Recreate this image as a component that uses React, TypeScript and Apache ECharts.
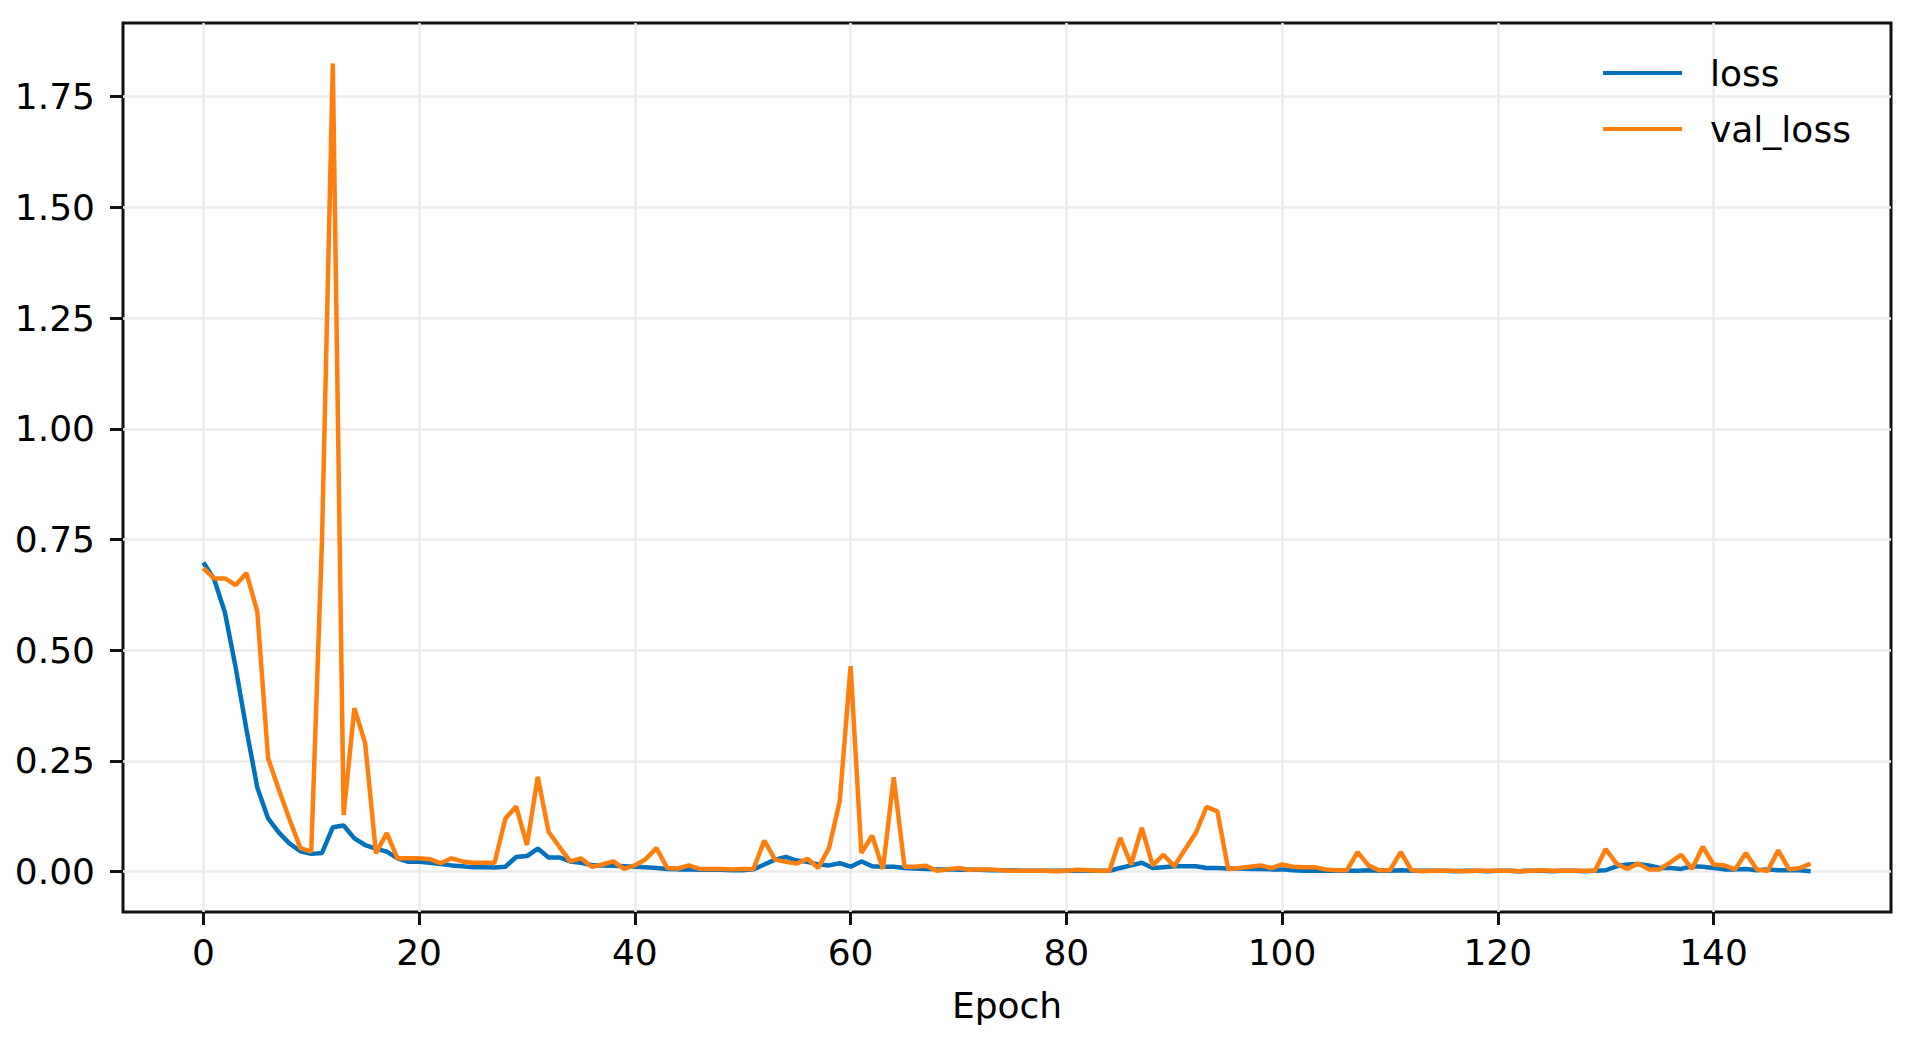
import React, { useEffect, useRef } from "react";
import * as echarts from "echarts";

const epochs: number[] = Array.from({ length: 150 }, (_, i) => i);

const loss: number[] = [
  0.698, 0.66, 0.585, 0.46, 0.32, 0.19, 0.12, 0.088, 0.063, 0.046,
  0.04, 0.042, 0.1, 0.104, 0.075, 0.06, 0.052, 0.045, 0.03, 0.022,
  0.022, 0.02, 0.017, 0.014, 0.012, 0.01, 0.01, 0.009, 0.011, 0.033,
  0.035, 0.052, 0.032, 0.032, 0.023, 0.02, 0.015, 0.014, 0.013, 0.012,
  0.011, 0.01, 0.008, 0.006, 0.005, 0.005, 0.004, 0.004, 0.004, 0.003,
  0.003, 0.005, 0.016, 0.027, 0.033, 0.025, 0.022, 0.016, 0.014, 0.019,
  0.011, 0.023, 0.012, 0.011, 0.011, 0.008, 0.007, 0.006, 0.005, 0.005,
  0.004, 0.004, 0.004, 0.003, 0.003, 0.003, 0.002, 0.002, 0.002, 0.002,
  0.002, 0.002, 0.002, 0.002, 0.002, 0.008, 0.014, 0.02, 0.008, 0.01,
  0.012, 0.012, 0.012, 0.008, 0.008, 0.007, 0.007, 0.006, 0.006, 0.005,
  0.005, 0.003, 0.002, 0.002, 0.002, 0.002, 0.002, 0.002, 0.003, 0.002,
  0.002, 0.003, 0.002, 0.002, 0.002, 0.002, 0.001, 0.002, 0.002, 0.001,
  0.002, 0.002, 0.001, 0.002, 0.002, 0.001, 0.002, 0.002, 0.001, 0.002,
  0.003, 0.012, 0.016, 0.017, 0.014, 0.008, 0.008, 0.006, 0.012, 0.011,
  0.008, 0.005, 0.005, 0.006, 0.003, 0.005, 0.003, 0.003, 0.003, 0.001,
];

const valLoss: number[] = [
  0.685, 0.662, 0.662, 0.647, 0.674, 0.587, 0.256, 0.185, 0.117, 0.053,
  0.045, 0.75, 1.825, 0.128, 0.369, 0.29, 0.041, 0.087, 0.03, 0.03,
  0.03, 0.028, 0.019, 0.03, 0.023, 0.02, 0.02, 0.02, 0.12, 0.147,
  0.06, 0.214, 0.09, 0.056, 0.023, 0.03, 0.011, 0.016, 0.023, 0.006,
  0.014, 0.028, 0.053, 0.008, 0.007, 0.014, 0.006, 0.006, 0.006, 0.005,
  0.006, 0.006, 0.07, 0.027, 0.022, 0.018, 0.029, 0.008, 0.053, 0.16,
  0.464, 0.042, 0.081, 0.006, 0.213, 0.011, 0.011, 0.013, 0.002, 0.005,
  0.008, 0.004, 0.005, 0.005, 0.003, 0.002, 0.002, 0.002, 0.002, 0.001,
  0.002, 0.004, 0.003, 0.002, 0.002, 0.076, 0.016, 0.099, 0.014, 0.038,
  0.012, 0.05, 0.087, 0.146, 0.136, 0.006, 0.008, 0.011, 0.014, 0.008,
  0.016, 0.011, 0.01, 0.01, 0.005, 0.003, 0.003, 0.044, 0.014, 0.003,
  0.003, 0.044, 0.003, 0.001, 0.002, 0.002, 0.002, 0.001, 0.002, 0.002,
  0.002, 0.002, 0.001, 0.002, 0.003, 0.002, 0.002, 0.002, 0.002, 0.002,
  0.051, 0.018, 0.006, 0.018, 0.005, 0.005, 0.021, 0.038, 0.006, 0.056,
  0.016, 0.014, 0.005, 0.042, 0.005, 0.001, 0.048, 0.005, 0.008, 0.018,
];

const xTicks: number[] = [0, 20, 40, 60, 80, 100, 120, 140];
const yTicks: number[] = [0, 0.25, 0.5, 0.75, 1.0, 1.25, 1.5, 1.75];

const FONT = "DejaVu Sans";
const BLUE = "#0072bd";
const ORANGE = "#ff7f0e";
const FS = 36;

export default function App() {
  const ref = useRef<HTMLDivElement>(null);

  useEffect(() => {
    if (!ref.current) return;
    const chart = echarts.init(ref.current, undefined, { renderer: "svg" });
    const option: any = {
      animation: false,
      backgroundColor: "#fff",
      grid: {
        left: 123,
        top: 23,
        width: 1768,
        height: 889,
        show: true,
        borderColor: "#111",
        borderWidth: 3,
        backgroundColor: "transparent",
        containLabel: false,
      },
      legend: {
        orient: "vertical",
        left: 1603,
        top: 55,
        padding: 0,
        itemWidth: 79,
        itemHeight: 4,
        itemGap: 20,
        icon: "rect",
        data: ["loss", "val_loss"],
        textStyle: {
          fontFamily: FONT,
          fontSize: FS,
          color: "#000",
          lineHeight: 34,
          padding: [0, 0, 0, 23],
        },
      },
      xAxis: {
        type: "value",
        min: -7.45,
        max: 156.45,
        name: "Epoch",
        nameLocation: "middle",
        nameGap: 75,
        nameTextStyle: { fontFamily: FONT, fontSize: FS, color: "#000" },
        axisLine: { show: false, onZero: false },
        axisTick: {
          show: true,
          length: 13,
          lineStyle: { color: "#111", width: 3 },
          customValues: xTicks,
        },
        axisLabel: {
          customValues: xTicks,
          fontFamily: FONT,
          fontSize: FS,
          color: "#000",
          margin: 22,
        },
        splitLine: { show: true, lineStyle: { color: "#ebebeb", width: 2.5 } },
      },
      yAxis: {
        type: "value",
        min: -0.09125,
        max: 1.91625,
        axisLine: { show: false, onZero: false },
        axisTick: {
          show: true,
          length: 13,
          lineStyle: { color: "#111", width: 3 },
          customValues: yTicks,
        },
        axisLabel: {
          customValues: yTicks,
          fontFamily: FONT,
          fontSize: FS,
          color: "#000",
          margin: 28,
          formatter: (v: number) => v.toFixed(2),
        },
        splitLine: { show: true, lineStyle: { color: "#ebebeb", width: 2.5 } },
      },
      series: [
        {
          name: "loss",
          type: "line",
          data: epochs.map((e, i) => [e, loss[i]]),
          showSymbol: false,
          symbol: "none",
          color: BLUE,
          lineStyle: { color: BLUE, width: 4.5 },
        },
        {
          name: "val_loss",
          type: "line",
          data: epochs.map((e, i) => [e, valLoss[i]]),
          showSymbol: false,
          symbol: "none",
          color: ORANGE,
          lineStyle: { color: ORANGE, width: 4.5 },
        },
      ],
    };
    chart.setOption(option);
    return () => chart.dispose();
  }, []);

  return (
    <div
      ref={ref}
      style={{ position: "fixed", left: 0, top: 0, width: 1910, height: 1044 }}
    />
  );
}
